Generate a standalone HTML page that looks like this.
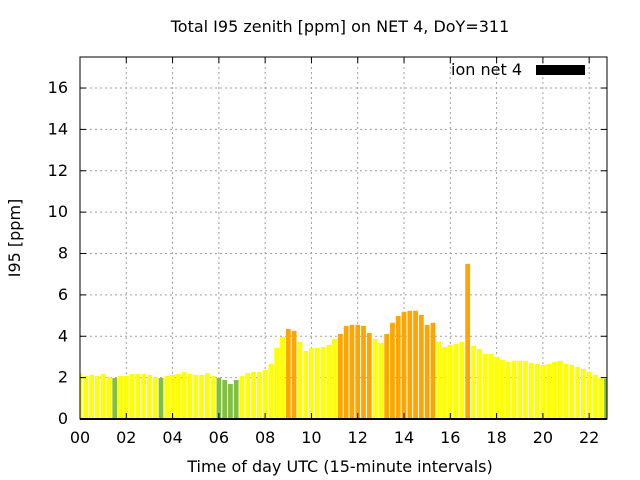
<!DOCTYPE html>
<html><head><meta charset="utf-8"><style>
body{margin:0;background:#fff}
svg{display:block;font-family:"DejaVu Sans","Liberation Sans",sans-serif}
</style></head><body>
<svg id="chart" width="640" height="480" viewBox="0 0 640 480">
<rect width="640" height="480" fill="#fff"/>
<g id="grid"></g>
<g id="bars"></g>
<g id="axes"></g>
<text x="340" y="32" text-anchor="middle" font-size="16">Total I95 zenith [ppm] on NET 4, DoY=311</text>
<text x="340" y="472" text-anchor="middle" font-size="16">Time of day UTC (15-minute intervals)</text>
<text transform="translate(20,238) rotate(-90)" text-anchor="middle" font-size="16">I95 [ppm]</text>
<g>
<text x="522" y="75" text-anchor="end" font-size="16">ion net 4</text>
<rect x="536" y="65" width="49" height="10" fill="#000"/>
</g>
</svg>
<script>
const values = [2.2,2.08,2.13,2.08,2.18,2.03,1.98,2.08,2.08,2.18,2.18,2.18,2.13,2.03,1.98,2.08,2.13,2.18,2.27,2.18,2.13,2.13,2.22,2.08,1.98,1.89,1.69,1.89,2.08,2.22,2.27,2.27,2.37,2.66,3.44,3.97,4.35,4.26,3.73,3.29,3.44,3.44,3.48,3.58,3.87,4.11,4.5,4.55,4.55,4.5,4.16,3.87,3.68,4.11,4.65,4.98,5.18,5.23,5.23,5.03,4.55,4.65,3.73,3.48,3.58,3.63,3.73,7.5,3.53,3.39,3.15,3.15,3.0,2.85,2.76,2.81,2.81,2.81,2.71,2.66,2.61,2.66,2.76,2.81,2.66,2.61,2.52,2.42,2.27,2.13,2.0,1.94];
const xTicks = [0,2,4,6,8,10,12,14,16,18,20,22];
const xTickLabels = ["00","02","04","06","08","10","12","14","16","18","20","22"];
const yTicks = [0,2,4,6,8,10,12,14,16];
const yTickLabels = ["0","2","4","6","8","10","12","14","16"];
const intervalHours = 0.25;

const L=80,R=607,T=57,B=419,X0=0,X1=22.77,Y1=17.5;
const xs=h=>L+(h-X0)/(X1-X0)*(R-L);
const ys=v=>B-v/Y1*(B-T);
const NS="http://www.w3.org/2000/svg";
function mk(tag,parent){const e=document.createElementNS(NS,tag);parent.appendChild(e);return e;}
const grid=document.getElementById('grid'),bars=document.getElementById('bars'),axes=document.getElementById('axes');

const cp=mk('clipPath',document.getElementById('chart'));cp.setAttribute('id','clip');
const cr=mk('rect',cp);cr.setAttribute('x',L);cr.setAttribute('y',T);cr.setAttribute('width',R-L);cr.setAttribute('height',B-T);
bars.setAttribute('clip-path','url(#clip)');

yTicks.forEach((v,i)=>{
  const y=ys(v);
  if(v>0){const g=mk('line',grid);
    
    
    g.setAttribute('x1',L);g.setAttribute('x2',R);g.setAttribute('y1',y);g.setAttribute('y2',y);
    g.setAttribute('stroke','#a0a0a0');g.setAttribute('stroke-dasharray','2,3');}
  const t=mk('text',axes);
  
  
  t.setAttribute('x',L-12);t.setAttribute('y',y+5);t.setAttribute('text-anchor','end');t.setAttribute('font-size','16');
  t.textContent=yTickLabels[i];
  [[L,L+6],[R,R-6]].forEach(p=>{const k=mk('line',axes);
    
    
    k.setAttribute('x1',p[0]);k.setAttribute('x2',p[1]);k.setAttribute('y1',y);k.setAttribute('y2',y);k.setAttribute('stroke','#000');});
});
xTicks.forEach((h,i)=>{
  const x=xs(h);
  if(h>0){const g=mk('line',grid);
    
    
    g.setAttribute('x1',x);g.setAttribute('x2',x);g.setAttribute('y1',T);g.setAttribute('y2',B);
    g.setAttribute('stroke','#a0a0a0');g.setAttribute('stroke-dasharray','2,3');}
  const t=mk('text',axes);
  
  
  t.setAttribute('x',x);t.setAttribute('y',B+24);t.setAttribute('text-anchor','middle');t.setAttribute('font-size','16');
  t.textContent=xTickLabels[i];
  [[B,B-6],[T,T+6]].forEach(p=>{const k=mk('line',axes);
    
    
    k.setAttribute('x1',x);k.setAttribute('x2',x);k.setAttribute('y1',p[0]);k.setAttribute('y2',p[1]);k.setAttribute('stroke','#000');});
});
const step=xs(intervalHours)-xs(0), bw=step*0.82;
values.forEach((v,i)=>{
  const cx=xs(i*intervalHours);
  const r=mk('rect',bars);
  
  
  r.setAttribute('x',cx-bw/2);r.setAttribute('width',bw);
  r.setAttribute('y',ys(v));r.setAttribute('height',B-ys(v));
  r.setAttribute('fill',v<2?'#80c040':(v>4?'#ffa500':'#ffff00'));
});
const fr=mk('rect',axes);


fr.setAttribute('x',L);fr.setAttribute('y',T);fr.setAttribute('width',R-L);fr.setAttribute('height',B-T);
fr.setAttribute('fill','none');fr.setAttribute('stroke','#000');fr.setAttribute('stroke-width','1');
const bl=mk('line',axes);


bl.setAttribute('x1',L);bl.setAttribute('x2',R);bl.setAttribute('y1',B);bl.setAttribute('y2',B);bl.setAttribute('stroke','#000');bl.setAttribute('stroke-width','2');
</script>
</body></html>
